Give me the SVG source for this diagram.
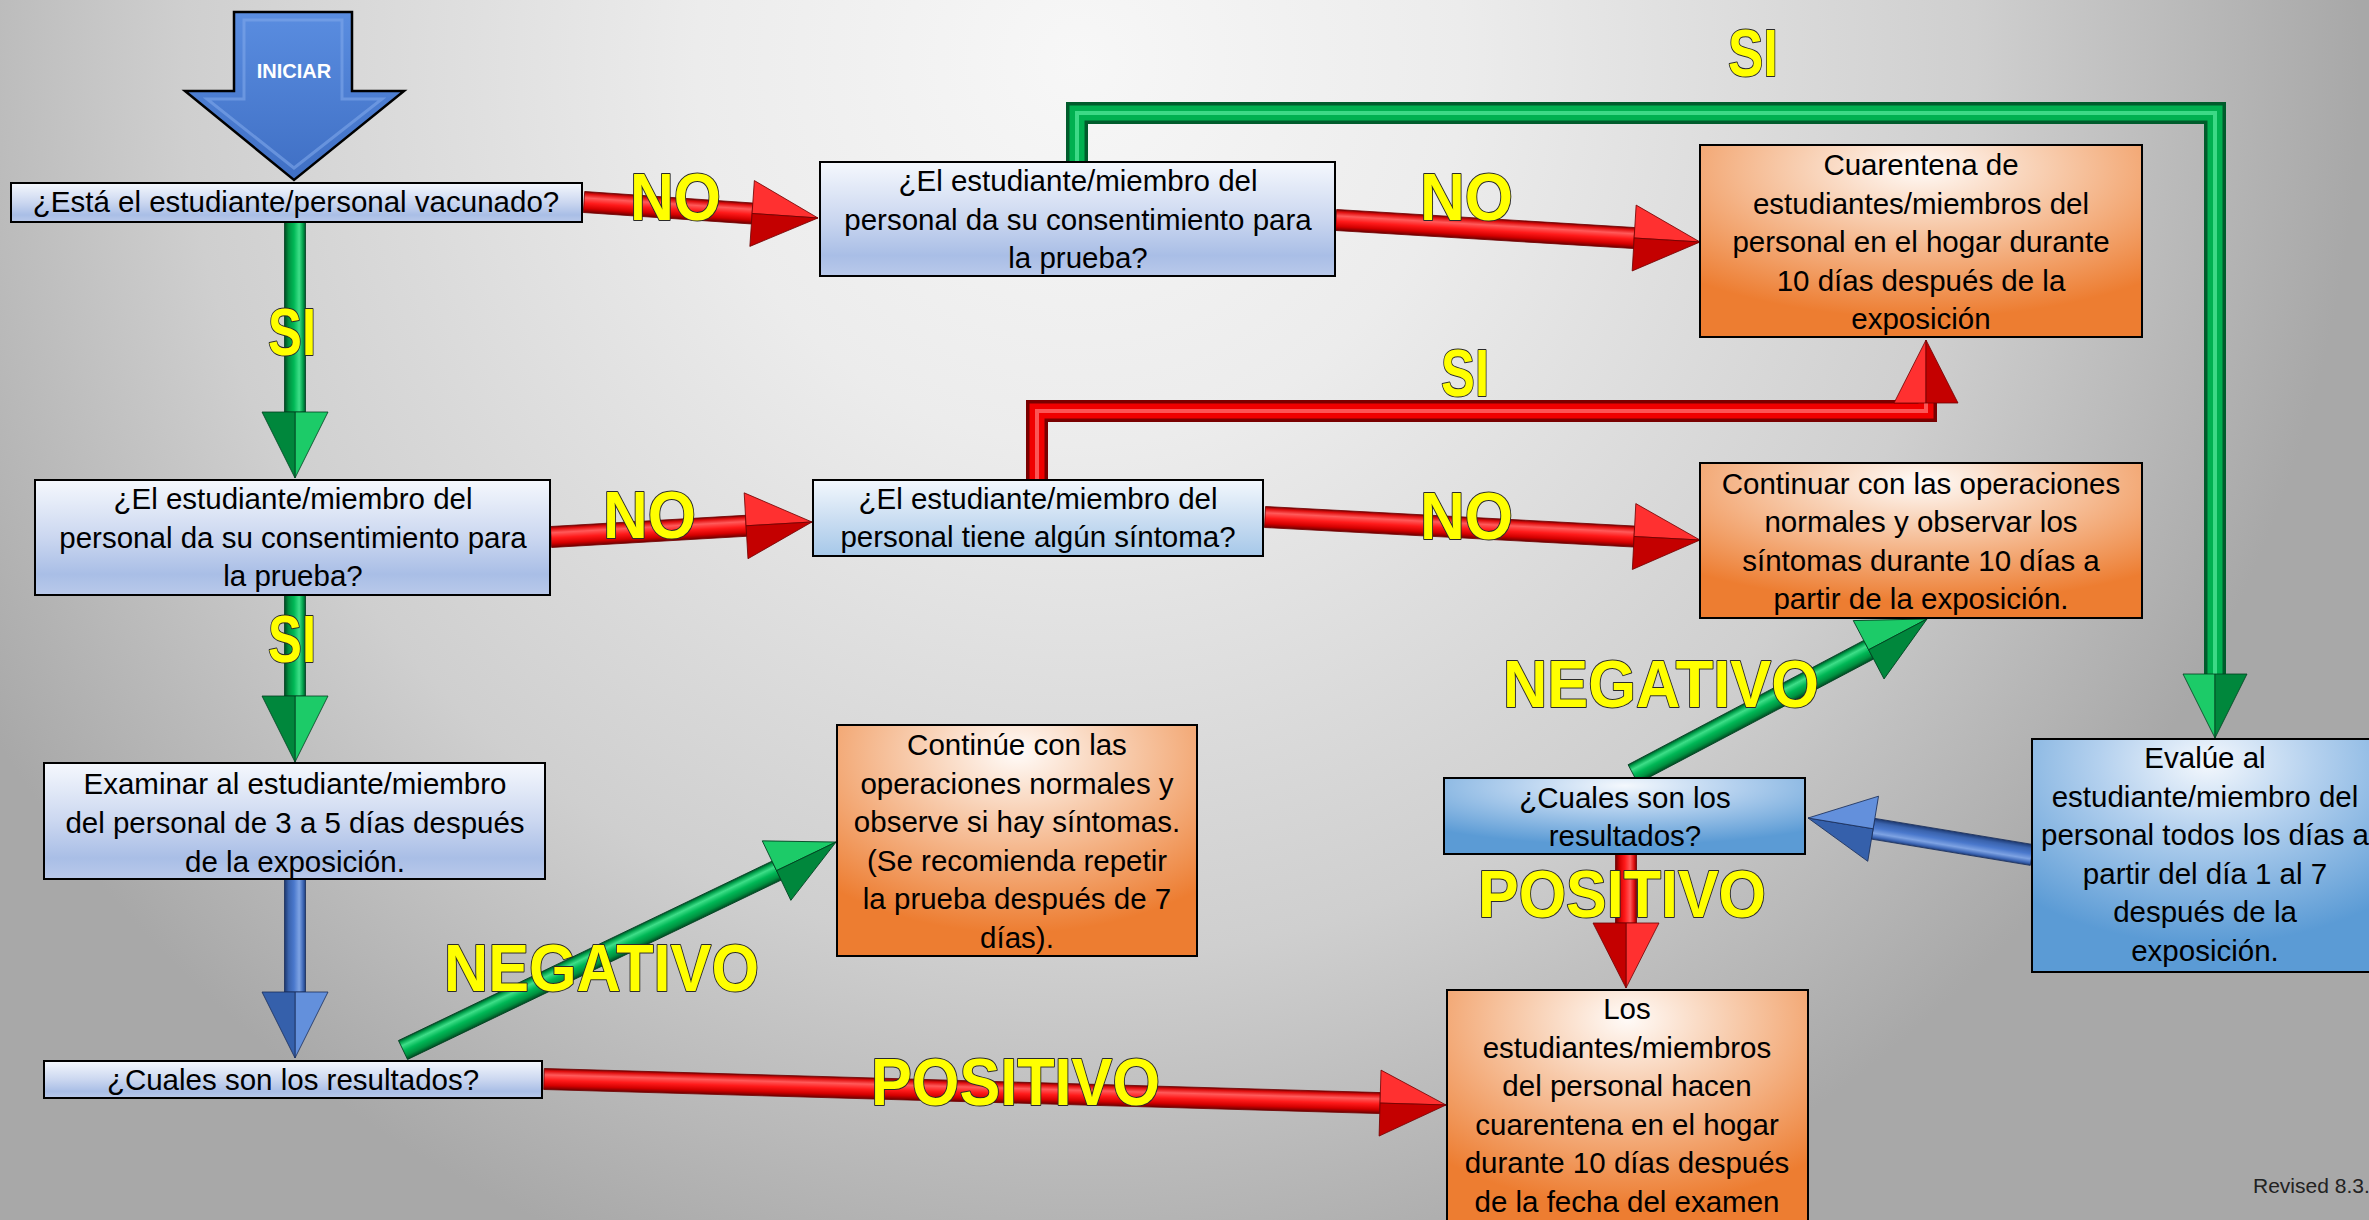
<svg xmlns="http://www.w3.org/2000/svg" width="2369" height="1220" viewBox="0 0 2369 1220">
<defs>
<radialGradient id="bg" gradientUnits="userSpaceOnUse" cx="1080" cy="60" r="1280">
<stop offset="0" stop-color="#f7f7f7"/><stop offset="0.3" stop-color="#ececec"/><stop offset="0.7" stop-color="#cfcfcf"/><stop offset="1" stop-color="#a8a8a8"/>
</radialGradient>
<linearGradient id="gQ" x1="0" y1="0" x2="0" y2="1">
<stop offset="0" stop-color="#f5f8fd"/><stop offset="0.5" stop-color="#cbd7f0"/><stop offset="0.82" stop-color="#a9bee6"/><stop offset="1" stop-color="#b9c9ea"/>
</linearGradient>
<linearGradient id="gQ2" x1="0" y1="0" x2="0" y2="1">
<stop offset="0" stop-color="#f3f8fd"/><stop offset="0.55" stop-color="#c8dcf1"/><stop offset="1" stop-color="#a6c8e9"/>
</linearGradient>
<radialGradient id="gO" cx="0.5" cy="0.12" r="0.78">
<stop offset="0" stop-color="#fffbf8"/><stop offset="0.35" stop-color="#f8cfb2"/><stop offset="1" stop-color="#ed7d31"/>
</radialGradient>
<radialGradient id="gB" cx="0.5" cy="0.1" r="0.78">
<stop offset="0" stop-color="#f4f8fd"/><stop offset="0.4" stop-color="#b3d0ee"/><stop offset="1" stop-color="#5b9bd5"/>
</radialGradient>
<linearGradient id="gStart" x1="0" y1="0" x2="0" y2="1">
<stop offset="0" stop-color="#5a8de0"/><stop offset="1" stop-color="#3f6fc4"/>
</linearGradient>
<linearGradient id="rS" x1="0" y1="0" x2="0" y2="1">
<stop offset="0" stop-color="#7d0000"/><stop offset="0.12" stop-color="#e01010"/><stop offset="0.3" stop-color="#ff5a5a"/><stop offset="0.55" stop-color="#ff1a1a"/><stop offset="0.8" stop-color="#d40000"/><stop offset="1" stop-color="#6e0000"/>
</linearGradient>
<linearGradient id="gS" x1="0" y1="0" x2="0" y2="1">
<stop offset="0" stop-color="#00502a"/><stop offset="0.12" stop-color="#00a04a"/><stop offset="0.3" stop-color="#3ede88"/><stop offset="0.55" stop-color="#00b856"/><stop offset="0.8" stop-color="#009140"/><stop offset="1" stop-color="#004a22"/>
</linearGradient>
<linearGradient id="bS" x1="0" y1="0" x2="0" y2="1">
<stop offset="0" stop-color="#1f3d7a"/><stop offset="0.12" stop-color="#3f69b8"/><stop offset="0.3" stop-color="#7ea3e3"/><stop offset="0.55" stop-color="#4a78cc"/><stop offset="0.8" stop-color="#3a63ad"/><stop offset="1" stop-color="#1c376e"/>
</linearGradient>
<style>
.rs{fill:url(#rS);stroke:#700000;stroke-width:0.8}
.rh1{fill:#ff3030;stroke:#700000;stroke-width:0.8}
.rh2{fill:#c40000;stroke:#700000;stroke-width:0.8}
.gs{fill:url(#gS);stroke:#004020;stroke-width:0.8}
.gh1{fill:#1ccb68;stroke:#004020;stroke-width:0.8}
.gh2{fill:#00873c;stroke:#004020;stroke-width:0.8}
.bs{fill:url(#bS);stroke:#1a2f5c;stroke-width:0.8}
.bh1{fill:#6390dc;stroke:#1a2f5c;stroke-width:0.8}
.bh2{fill:#3560ab;stroke:#1a2f5c;stroke-width:0.8}
.qb{fill:url(#gQ);stroke:#000;stroke-width:2}
.qb2{fill:url(#gQ2);stroke:#000;stroke-width:2}
.ob{fill:url(#gO);stroke:#000;stroke-width:2}
.bb{fill:url(#gB);stroke:#000;stroke-width:2}
.t{font-family:"Liberation Sans",Arial,sans-serif;font-size:29.5px;fill:#000;text-anchor:middle}
.lbl{font-family:"Liberation Sans",Arial,sans-serif;font-weight:bold;font-size:66px;fill:#ffff00;stroke:#2a2a2a;stroke-width:2;paint-order:stroke;stroke-linejoin:round}
</style>
</defs>
<rect x="0" y="0" width="2369" height="1220" fill="url(#bg)"/>

<g id="connectors">
  <g id="c-start">
    <polygon points="234,12 352,12 352,91 404,91 294,180 185,91 234,91" fill="url(#gStart)" stroke="#000" stroke-width="2.5"/>
    <polygon points="244,20 342,20 342,99 382,99 294,168 207,99 244,99" fill="none" stroke="#7fa6ea" stroke-width="3" opacity="0.6"/>
    <text x="294" y="78" font-family="Liberation Sans, Arial, sans-serif" font-weight="bold" font-size="20" fill="#fff" text-anchor="middle">INICIAR</text>
  </g>
  <g id="c-si-top">
    <path d="M1077,162 V113 H2215 V676" fill="none" stroke="#005c2c" stroke-width="22"/>
    <path d="M1077,162 V113 H2215 V676" fill="none" stroke="#00b050" stroke-width="15"/>
    <path d="M1077,162 V113 H2215 V676" fill="none" stroke="#4be394" stroke-width="4" opacity="0.8"/>
    <polygon class="gh1" points="2183,674 2215,674 2215,738"/>
    <polygon class="gh2" points="2215,674 2247,674 2215,738"/>
  </g>
  <g id="c-si-mid">
    <path d="M1037,480 V411 H1926 V400" fill="none" stroke="#7a0000" stroke-width="22"/>
    <path d="M1037,480 V411 H1926 V400" fill="none" stroke="#f00000" stroke-width="15"/>
    <path d="M1037,480 V411 H1926 V400" fill="none" stroke="#ff6a6a" stroke-width="4" opacity="0.8"/>
    <polygon class="rh1" points="1894,403 1926,403 1926,340"/>
    <polygon class="rh2" points="1926,403 1958,403 1926,340"/>
  </g>
  <g id="c1" transform="translate(584,202) rotate(3.91)">
    <rect class="rs" x="0" y="-10.5" width="168.5" height="21"/>
    <polygon class="rh1" points="168.5,-33 234.5,0 168.5,0"/><polygon class="rh2" points="168.5,0 234.5,0 168.5,33"/>
  </g>
  <g id="c2" transform="translate(1336,220) rotate(3.46)">
    <rect class="rs" x="0" y="-10.5" width="298.7" height="21"/>
    <polygon class="rh1" points="298.7,-33 364.7,0 298.7,0"/><polygon class="rh2" points="298.7,0 364.7,0 298.7,33"/>
  </g>
  <g id="c4" transform="translate(295,222) rotate(90)">
    <rect class="gs" x="0" y="-10.5" width="190" height="21"/>
    <polygon class="gh1" points="190,-33 256,0 190,0"/><polygon class="gh2" points="190,0 256,0 190,33"/>
  </g>
  <g id="c5" transform="translate(551,537) rotate(-3.29)">
    <rect class="rs" x="0" y="-10.5" width="195.4" height="21"/>
    <polygon class="rh1" points="195.4,-33 261.4,0 195.4,0"/><polygon class="rh2" points="195.4,0 261.4,0 195.4,33"/>
  </g>
  <g id="c7" transform="translate(1265,517) rotate(3.03)">
    <rect class="rs" x="0" y="-10.5" width="369.6" height="21"/>
    <polygon class="rh1" points="369.6,-33 435.6,0 369.6,0"/><polygon class="rh2" points="369.6,0 435.6,0 369.6,33"/>
  </g>
  <g id="c8" transform="translate(295,595) rotate(90)">
    <rect class="gs" x="0" y="-10.5" width="101" height="21"/>
    <polygon class="gh1" points="101,-33 167,0 101,0"/><polygon class="gh2" points="101,0 167,0 101,33"/>
  </g>
  <g id="c9" transform="translate(295,879) rotate(90)">
    <rect class="bs" x="0" y="-10.5" width="113" height="21"/>
    <polygon class="bh1" points="113,-33 179,0 113,0"/><polygon class="bh2" points="113,0 179,0 113,33"/>
  </g>
  <g id="c10" transform="translate(403,1050) rotate(-25.65)">
    <rect class="gs" x="0" y="-10.5" width="414.4" height="21"/>
    <polygon class="gh1" points="414.4,-33 480.4,0 414.4,0"/><polygon class="gh2" points="414.4,0 480.4,0 414.4,33"/>
  </g>
  <g id="c11" transform="translate(544,1079) rotate(1.65)">
    <rect class="rs" x="0" y="-10.5" width="836.4" height="21"/>
    <polygon class="rh1" points="836.4,-33 902.4,0 836.4,0"/><polygon class="rh2" points="836.4,0 902.4,0 836.4,33"/>
  </g>
  <g id="c12" transform="translate(1633,774) rotate(-27.8)">
    <rect class="gs" x="0" y="-10.5" width="266.4" height="21"/>
    <polygon class="gh1" points="266.4,-33 332.4,0 266.4,0"/><polygon class="gh2" points="266.4,0 332.4,0 266.4,33"/>
  </g>
  <g id="c13" transform="translate(2032,855) rotate(189.38)">
    <rect class="bs" x="0" y="-10.5" width="161" height="21"/>
    <polygon class="bh2" points="161,-33 227,0 161,0"/><polygon class="bh1" points="161,0 227,0 161,33"/>
  </g>
  <g id="c14" transform="translate(1626,854) rotate(90)">
    <rect class="rs" x="0" y="-10.5" width="69" height="21"/>
    <polygon class="rh1" points="69,-33 134,0 69,0"/><polygon class="rh2" points="69,0 134,0 69,33"/>
  </g>
</g>

<g id="n1">
  <rect class="qb" x="11" y="183" width="571" height="39"/>
  <text class="t" x="296" y="212">¿Está el estudiante/personal vacunado?</text>
</g>
<g id="n2">
  <rect class="qb" x="820" y="162" width="515" height="114"/>
  <text class="t" x="1078" y="191">¿El estudiante/miembro del</text>
  <text class="t" x="1078" y="229.5">personal da su consentimiento para</text>
  <text class="t" x="1078" y="268">la prueba?</text>
</g>
<g id="n3">
  <rect class="ob" x="1700" y="145" width="442" height="192"/>
  <text class="t" x="1921" y="175">Cuarentena de</text>
  <text class="t" x="1921" y="213.5">estudiantes/miembros del</text>
  <text class="t" x="1921" y="252">personal en el hogar durante</text>
  <text class="t" x="1921" y="290.5">10 días después de la</text>
  <text class="t" x="1921" y="329">exposición</text>
</g>
<g id="n4">
  <rect class="qb" x="35" y="480" width="515" height="115"/>
  <text class="t" x="293" y="509">¿El estudiante/miembro del</text>
  <text class="t" x="293" y="547.5">personal da su consentimiento para</text>
  <text class="t" x="293" y="586">la prueba?</text>
</g>
<g id="n5">
  <rect class="qb2" x="813" y="480" width="450" height="76"/>
  <text class="t" x="1038" y="509">¿El estudiante/miembro del</text>
  <text class="t" x="1038" y="547">personal tiene algún síntoma?</text>
</g>
<g id="n6">
  <rect class="ob" x="1700" y="463" width="442" height="155"/>
  <text class="t" x="1921" y="494">Continuar con las operaciones</text>
  <text class="t" x="1921" y="532">normales y observar los</text>
  <text class="t" x="1921" y="571">síntomas durante 10 días a</text>
  <text class="t" x="1921" y="609">partir de la exposición.</text>
</g>
<g id="n7">
  <rect class="qb" x="44" y="763" width="501" height="116"/>
  <text class="t" x="295" y="794">Examinar al estudiante/miembro</text>
  <text class="t" x="295" y="833">del personal de 3 a 5 días después</text>
  <text class="t" x="295" y="871.5">de la exposición.</text>
</g>
<g id="n8">
  <rect class="ob" x="837" y="725" width="360" height="231"/>
  <text class="t" x="1017" y="755">Continúe con las</text>
  <text class="t" x="1017" y="793.5">operaciones normales y</text>
  <text class="t" x="1017" y="832">observe si hay síntomas.</text>
  <text class="t" x="1017" y="870.5">(Se recomienda repetir</text>
  <text class="t" x="1017" y="909">la prueba después de 7</text>
  <text class="t" x="1017" y="947.5">días).</text>
</g>
<g id="n9">
  <rect class="qb" x="44" y="1061" width="498" height="37"/>
  <text class="t" x="293" y="1090">¿Cuales son los resultados?</text>
</g>
<g id="n10">
  <rect class="bb" x="1444" y="778" width="361" height="76"/>
  <text class="t" x="1625" y="808">¿Cuales son los</text>
  <text class="t" x="1625" y="846">resultados?</text>
</g>
<g id="n11">
  <rect class="bb" x="2032" y="739" width="350" height="233"/>
  <text class="t" x="2205" y="768">Evalúe al</text>
  <text class="t" x="2205" y="806.5">estudiante/miembro del</text>
  <text class="t" x="2205" y="845">personal todos los días a</text>
  <text class="t" x="2205" y="883.5">partir del día 1 al 7</text>
  <text class="t" x="2205" y="922">después de la</text>
  <text class="t" x="2205" y="960.5">exposición.</text>
</g>
<g id="n12">
  <rect class="ob" x="1447" y="990" width="361" height="240"/>
  <text class="t" x="1627" y="1019">Los</text>
  <text class="t" x="1627" y="1057.5">estudiantes/miembros</text>
  <text class="t" x="1627" y="1096">del personal hacen</text>
  <text class="t" x="1627" y="1134.5">cuarentena en el hogar</text>
  <text class="t" x="1627" y="1173">durante 10 días después</text>
  <text class="t" x="1627" y="1211.5">de la fecha del examen</text>
</g>

<g id="labels">
  <text class="lbl" x="630" y="220" textLength="91" lengthAdjust="spacingAndGlyphs">NO</text>
  <text class="lbl" x="268" y="355" textLength="48" lengthAdjust="spacingAndGlyphs">SI</text>
  <text class="lbl" x="1420" y="220" textLength="93" lengthAdjust="spacingAndGlyphs">NO</text>
  <text class="lbl" x="1728" y="76" textLength="50" lengthAdjust="spacingAndGlyphs">SI</text>
  <text class="lbl" x="1441" y="396" textLength="48" lengthAdjust="spacingAndGlyphs">SI</text>
  <text class="lbl" x="603" y="538" textLength="93" lengthAdjust="spacingAndGlyphs">NO</text>
  <text class="lbl" x="1420" y="539" textLength="93" lengthAdjust="spacingAndGlyphs">NO</text>
  <text class="lbl" x="268" y="662" textLength="48" lengthAdjust="spacingAndGlyphs">SI</text>
  <text class="lbl" x="1503" y="707" textLength="316" lengthAdjust="spacingAndGlyphs">NEGATIVO</text>
  <text class="lbl" x="444" y="991" textLength="315" lengthAdjust="spacingAndGlyphs">NEGATIVO</text>
  <text class="lbl" x="1478" y="917" textLength="288" lengthAdjust="spacingAndGlyphs">POSITIVO</text>
  <text class="lbl" x="871" y="1105" textLength="289" lengthAdjust="spacingAndGlyphs">POSITIVO</text>
</g>
<text id="revised" x="2253" y="1193" font-family="Liberation Sans, Arial, sans-serif" font-size="21" fill="#222">Revised 8.3.</text>
</svg>
